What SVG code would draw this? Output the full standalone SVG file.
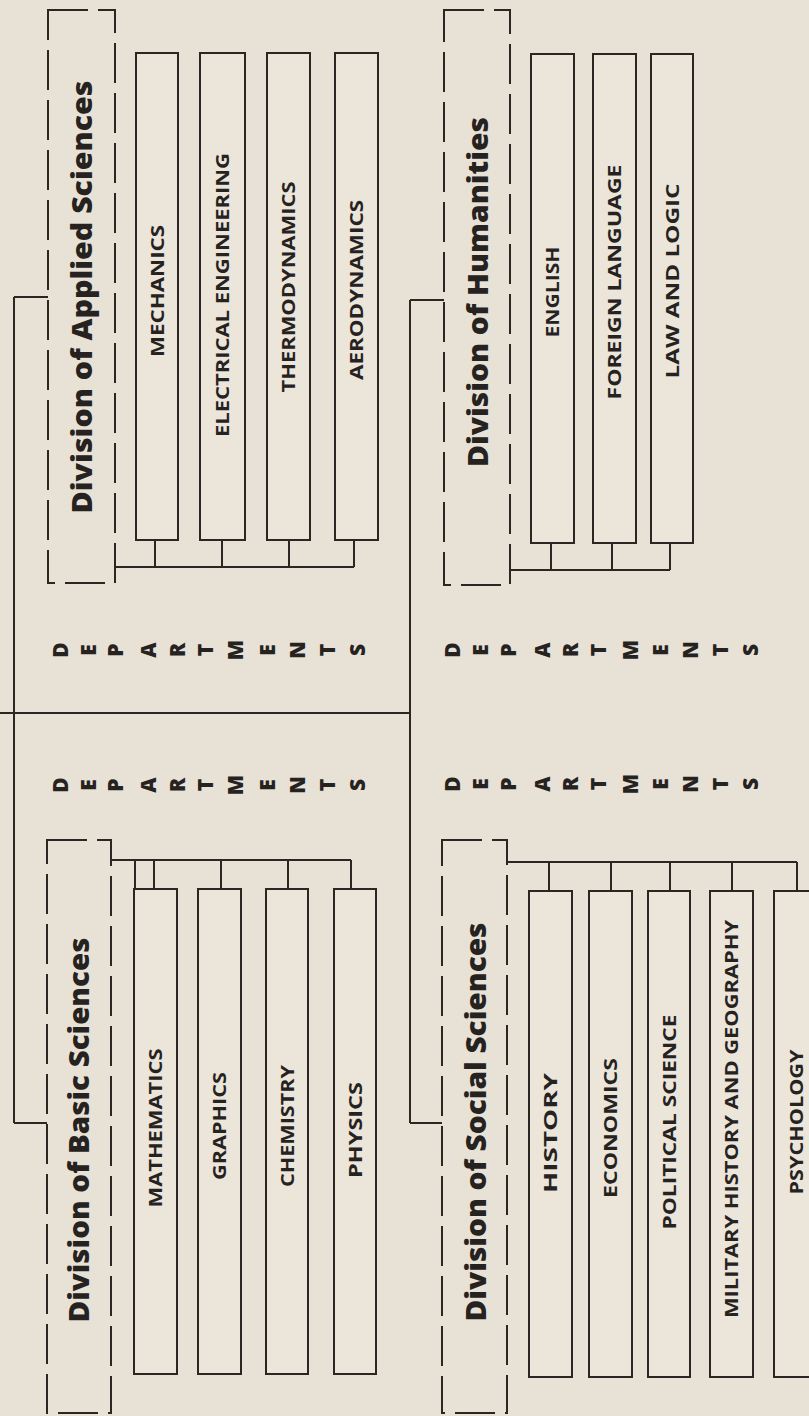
<svg xmlns="http://www.w3.org/2000/svg" width="809" height="1416" viewBox="0 0 809 1416">
<style>
.bg{fill:#e8e2d6}
.ln{stroke:#2a2622;stroke-width:2;fill:none}
.dash{stroke:#2a2622;stroke-width:2;fill:none;stroke-dasharray:40 10}
.box{stroke:#2a2622;stroke-width:2;fill:#ebe5da}
.div{font-family:"Open Sans","Liberation Sans",sans-serif;font-weight:800;font-size:28px;fill:#26221f;text-anchor:middle}
.dep{font-family:"Open Sans","Liberation Sans",sans-serif;font-weight:700;font-size:18.5px;fill:#26221f;text-anchor:middle}
.let{font-family:"Open Sans","Liberation Sans",sans-serif;font-weight:800;font-size:21px;fill:#26221f;text-anchor:middle;dominant-baseline:central}
</style>
<rect class="bg" x="0" y="0" width="809" height="1416"/>

<g id="connectors">
  <path class="ln" d="M0 713 H410 M14 297 V1123 M14 297 H48 M14 1123 H47 M410 300 V1123 M410 300 H444 M410 1123 H442"/>
  <path class="ln" d="M115 567 H354 M155 540 V567 M222 540 V567 M289 540 V567 M354 540 V567"/>
  <path class="ln" d="M510 570 H670 M551 543 V570 M612 543 V570 M670 543 V570"/>
  <path class="ln" d="M111 860 H351 M135 860 V889 M154 860 V889 M221 860 V889 M288 860 V889 M351 860 V889"/>
  <path class="ln" d="M507 862 H797 M549 862 V891 M611 862 V891 M670 862 V891 M732 862 V891 M797 862 V891"/>
</g>

<g id="div-applied">
  <rect class="dash" x="48" y="10" width="67" height="573"/>
  <text class="div" transform="translate(92 297) rotate(-90)" textLength="433" lengthAdjust="spacingAndGlyphs">Division of Applied Sciences</text>
</g>
<g id="div-humanities">
  <rect class="dash" x="444" y="10" width="66" height="575"/>
  <text class="div" transform="translate(488 292) rotate(-90)" textLength="350" lengthAdjust="spacingAndGlyphs">Division of Humanities</text>
</g>
<g id="div-basic">
  <rect class="dash" x="47" y="840" width="64" height="573"/>
  <text class="div" transform="translate(89 1130) rotate(-90)" textLength="385" lengthAdjust="spacingAndGlyphs">Division of Basic Sciences</text>
</g>
<g id="div-social">
  <rect class="dash" x="442" y="840" width="65" height="573"/>
  <text class="div" transform="translate(486 1122) rotate(-90)" textLength="399" lengthAdjust="spacingAndGlyphs">Division of Social Sciences</text>
</g>

<g id="dept-mechanics"><rect class="box" x="136" y="53" width="42" height="487"/><text class="dep" transform="translate(163.5 291) rotate(-90)" textLength="132" lengthAdjust="spacingAndGlyphs">MECHANICS</text></g>
<g id="dept-electrical"><rect class="box" x="200" y="53" width="45" height="487"/><text class="dep" transform="translate(229 295) rotate(-90)" textLength="284" lengthAdjust="spacingAndGlyphs">ELECTRICAL ENGINEERING</text></g>
<g id="dept-thermo"><rect class="box" x="267" y="53" width="43" height="487"/><text class="dep" transform="translate(295 287) rotate(-90)" textLength="211" lengthAdjust="spacingAndGlyphs">THERMODYNAMICS</text></g>
<g id="dept-aero"><rect class="box" x="335" y="53" width="43" height="487"/><text class="dep" transform="translate(363 290) rotate(-90)" textLength="180" lengthAdjust="spacingAndGlyphs">AERODYNAMICS</text></g>

<g id="dept-english"><rect class="box" x="531" y="54" width="43" height="489"/><text class="dep" transform="translate(559 292) rotate(-90)" textLength="91" lengthAdjust="spacingAndGlyphs">ENGLISH</text></g>
<g id="dept-foreign"><rect class="box" x="593" y="54" width="43" height="489"/><text class="dep" transform="translate(621 282) rotate(-90)" textLength="235" lengthAdjust="spacingAndGlyphs">FOREIGN LANGUAGE</text></g>
<g id="dept-law"><rect class="box" x="651" y="54" width="42" height="489"/><text class="dep" transform="translate(678.5 281) rotate(-90)" textLength="195" lengthAdjust="spacingAndGlyphs">LAW AND LOGIC</text></g>

<g id="dept-math"><rect class="box" x="134" y="889" width="43" height="485"/><text class="dep" transform="translate(162 1128) rotate(-90)" textLength="159" lengthAdjust="spacingAndGlyphs">MATHEMATICS</text></g>
<g id="dept-graphics"><rect class="box" x="198" y="889" width="43" height="485"/><text class="dep" transform="translate(226 1126) rotate(-90)" textLength="108" lengthAdjust="spacingAndGlyphs">GRAPHICS</text></g>
<g id="dept-chemistry"><rect class="box" x="266" y="889" width="42" height="485"/><text class="dep" transform="translate(293.5 1126) rotate(-90)" textLength="122" lengthAdjust="spacingAndGlyphs">CHEMISTRY</text></g>
<g id="dept-physics"><rect class="box" x="334" y="889" width="42" height="485"/><text class="dep" transform="translate(361.5 1130) rotate(-90)" textLength="96" lengthAdjust="spacingAndGlyphs">PHYSICS</text></g>

<g id="dept-history"><rect class="box" x="529" y="891" width="43" height="486"/><text class="dep" transform="translate(557 1133) rotate(-90)" textLength="120" lengthAdjust="spacingAndGlyphs">HISTORY</text></g>
<g id="dept-economics"><rect class="box" x="589" y="891" width="43" height="486"/><text class="dep" transform="translate(617 1128) rotate(-90)" textLength="140" lengthAdjust="spacingAndGlyphs">ECONOMICS</text></g>
<g id="dept-political"><rect class="box" x="648" y="891" width="42" height="486"/><text class="dep" transform="translate(675.5 1122) rotate(-90)" textLength="215" lengthAdjust="spacingAndGlyphs">POLITICAL SCIENCE</text></g>
<g id="dept-military"><rect class="box" x="710" y="891" width="43" height="486"/><text class="dep" transform="translate(738 1119) rotate(-90)" textLength="398" lengthAdjust="spacingAndGlyphs">MILITARY HISTORY AND GEOGRAPHY</text></g>
<g id="dept-psychology"><rect class="box" x="774" y="891" width="44" height="486"/><text class="dep" transform="translate(802.5 1122) rotate(-90)" textLength="145" lengthAdjust="spacingAndGlyphs">PSYCHOLOGY</text></g>

<g id="label-departments-1">
  <text class="let" transform="translate(60 650) rotate(-90)">D</text>
  <text class="let" transform="translate(88 650) rotate(-90)">E</text>
  <text class="let" transform="translate(115 650) rotate(-90)">P</text>
  <text class="let" transform="translate(148 650) rotate(-90)">A</text>
  <text class="let" transform="translate(177 650) rotate(-90)">R</text>
  <text class="let" transform="translate(205 650) rotate(-90)">T</text>
  <text class="let" transform="translate(235 650) rotate(-90)">M</text>
  <text class="let" transform="translate(267 650) rotate(-90)">E</text>
  <text class="let" transform="translate(297 650) rotate(-90)">N</text>
  <text class="let" transform="translate(327 650) rotate(-90)">T</text>
  <text class="let" transform="translate(357 650) rotate(-90)">S</text>
</g>
<g id="label-departments-2">
  <text class="let" transform="translate(60 785) rotate(-90)">D</text>
  <text class="let" transform="translate(88 785) rotate(-90)">E</text>
  <text class="let" transform="translate(115 785) rotate(-90)">P</text>
  <text class="let" transform="translate(148 785) rotate(-90)">A</text>
  <text class="let" transform="translate(177 785) rotate(-90)">R</text>
  <text class="let" transform="translate(205 785) rotate(-90)">T</text>
  <text class="let" transform="translate(235 785) rotate(-90)">M</text>
  <text class="let" transform="translate(267 785) rotate(-90)">E</text>
  <text class="let" transform="translate(297 785) rotate(-90)">N</text>
  <text class="let" transform="translate(327 785) rotate(-90)">T</text>
  <text class="let" transform="translate(357 785) rotate(-90)">S</text>
</g>
<g id="label-departments-3">
  <text class="let" transform="translate(452 650) rotate(-90)">D</text>
  <text class="let" transform="translate(480 650) rotate(-90)">E</text>
  <text class="let" transform="translate(508 650) rotate(-90)">P</text>
  <text class="let" transform="translate(542 650) rotate(-90)">A</text>
  <text class="let" transform="translate(570 650) rotate(-90)">R</text>
  <text class="let" transform="translate(598 650) rotate(-90)">T</text>
  <text class="let" transform="translate(630 650) rotate(-90)">M</text>
  <text class="let" transform="translate(660 650) rotate(-90)">E</text>
  <text class="let" transform="translate(690 650) rotate(-90)">N</text>
  <text class="let" transform="translate(720 650) rotate(-90)">T</text>
  <text class="let" transform="translate(750 650) rotate(-90)">S</text>
</g>
<g id="label-departments-4">
  <text class="let" transform="translate(452 784) rotate(-90)">D</text>
  <text class="let" transform="translate(480 784) rotate(-90)">E</text>
  <text class="let" transform="translate(508 784) rotate(-90)">P</text>
  <text class="let" transform="translate(542 784) rotate(-90)">A</text>
  <text class="let" transform="translate(570 784) rotate(-90)">R</text>
  <text class="let" transform="translate(598 784) rotate(-90)">T</text>
  <text class="let" transform="translate(630 784) rotate(-90)">M</text>
  <text class="let" transform="translate(660 784) rotate(-90)">E</text>
  <text class="let" transform="translate(690 784) rotate(-90)">N</text>
  <text class="let" transform="translate(720 784) rotate(-90)">T</text>
  <text class="let" transform="translate(750 784) rotate(-90)">S</text>
</g>
</svg>
